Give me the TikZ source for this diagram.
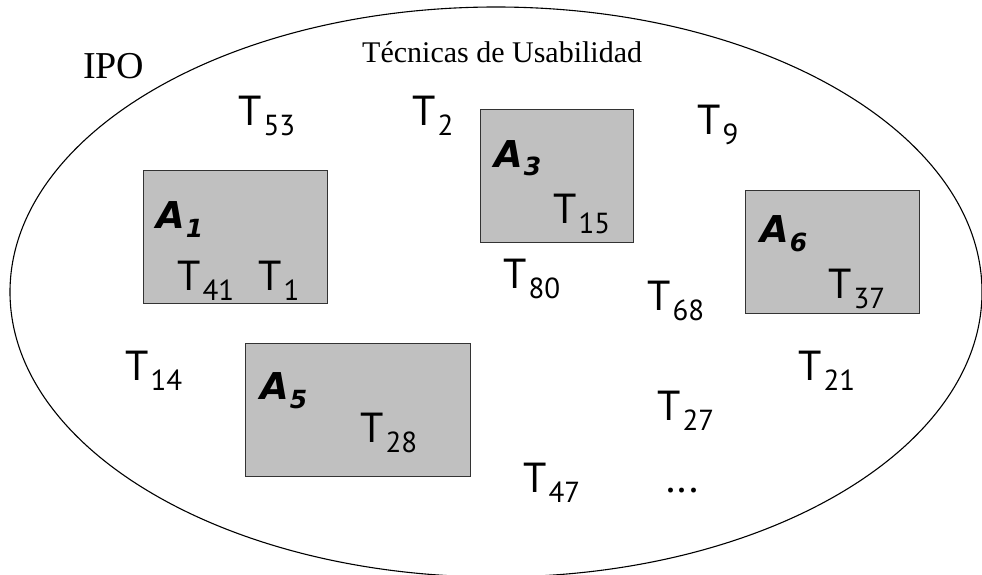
\documentclass[tikz,border=0pt]{standalone}
\usepackage{fontspec}
\setmainfont{Liberation Serif}
\newfontfamily\tecfont{PT Sans}
\newfontfamily\zonafont{DejaVu Sans}
\usetikzlibrary{shapes.geometric}
\definecolor{ipoGrey}{HTML}{C0C0C0}
\definecolor{ipoEdge}{HTML}{333333}
\newcommand{\tec}[1]{T\kern2pt\raisebox{-10pt}{\fontsize{29}{29}\selectfont #1}}
\newcommand{\zona}[1]{\bfseries\itshape A\kern1pt\raisebox{-9pt}{\fontsize{25}{25}\selectfont #1}}

\begin{document}
\begin{tikzpicture}[x=1pt,y=-1pt,
    tec/.style={font=\fontsize{42}{42}\selectfont\tecfont,anchor=base west,inner sep=0pt},
    zona/.style={font=\fontsize{37}{37}\selectfont\zonafont,anchor=base west,inner sep=0pt},
    caja/.style={draw=ipoEdge,fill=ipoGrey,line width=1.4pt,anchor=north west,inner sep=0pt}]
  \useasboundingbox (0,0) rectangle (982,575);
  % el conjunto IPO
  \node[ellipse,draw,line width=1.1pt,inner sep=0pt,
        minimum width=972,minimum height=570] (ipo) at (496,292) {};
  \node[anchor=base west,inner sep=0pt,font=\fontsize{38}{38}\selectfont] (ipolbl) at (83,79) {IPO};
  \node[anchor=base west,inner sep=0pt,font=\fontsize{30}{30}\selectfont] (titulo) at (362,63) {Técnicas de Usabilidad};

  % areas
  \node[caja,minimum width=184,minimum height=133] (a1) at (143,170) {};
  \node[caja,minimum width=153,minimum height=133] (a3) at (480,109) {};
  \node[caja,minimum width=174,minimum height=123] (a6) at (745,190) {};
  \node[caja,minimum width=225,minimum height=133] (a5) at (245,343) {};

  \node[zona] (a1lbl) at (156,228) {\zona{1}};
  \node[zona] (a3lbl) at (494,167) {\zona{3}};
  \node[zona] (a6lbl) at (760,242) {\zona{6}};
  \node[zona] (a5lbl) at (260,399) {\zona{5}};

  % tecnicas
  \node[tec] (t53) at (238,125) {\tec{53}};
  \node[tec] (t2)  at (412,125) {\tec{2}};
  \node[tec] (t9)  at (697,135) {\tec{9}};
  \node[tec] (t15) at (553,223) {\tec{15}};
  \node[tec] (t41) at (177,290) {\tec{41}};
  \node[tec] (t1)  at (258,290) {\tec{1}};
  \node[tec] (t80) at (503,288) {\tec{80}};
  \node[tec] (t68) at (647,310) {\tec{68}};
  \node[tec] (t37) at (828,298) {\tec{37}};
  \node[tec] (t14) at (125,380) {\tec{14}};
  \node[tec] (t28) at (360,442) {\tec{28}};
  \node[tec] (t21) at (798,380) {\tec{21}};
  \node[tec] (t27) at (657,420) {\tec{27}};
  \node[tec] (t47) at (523,492) {\tec{47}};
  \node[tec] (etc) at (666,492) {...};
\end{tikzpicture}
\end{document}
